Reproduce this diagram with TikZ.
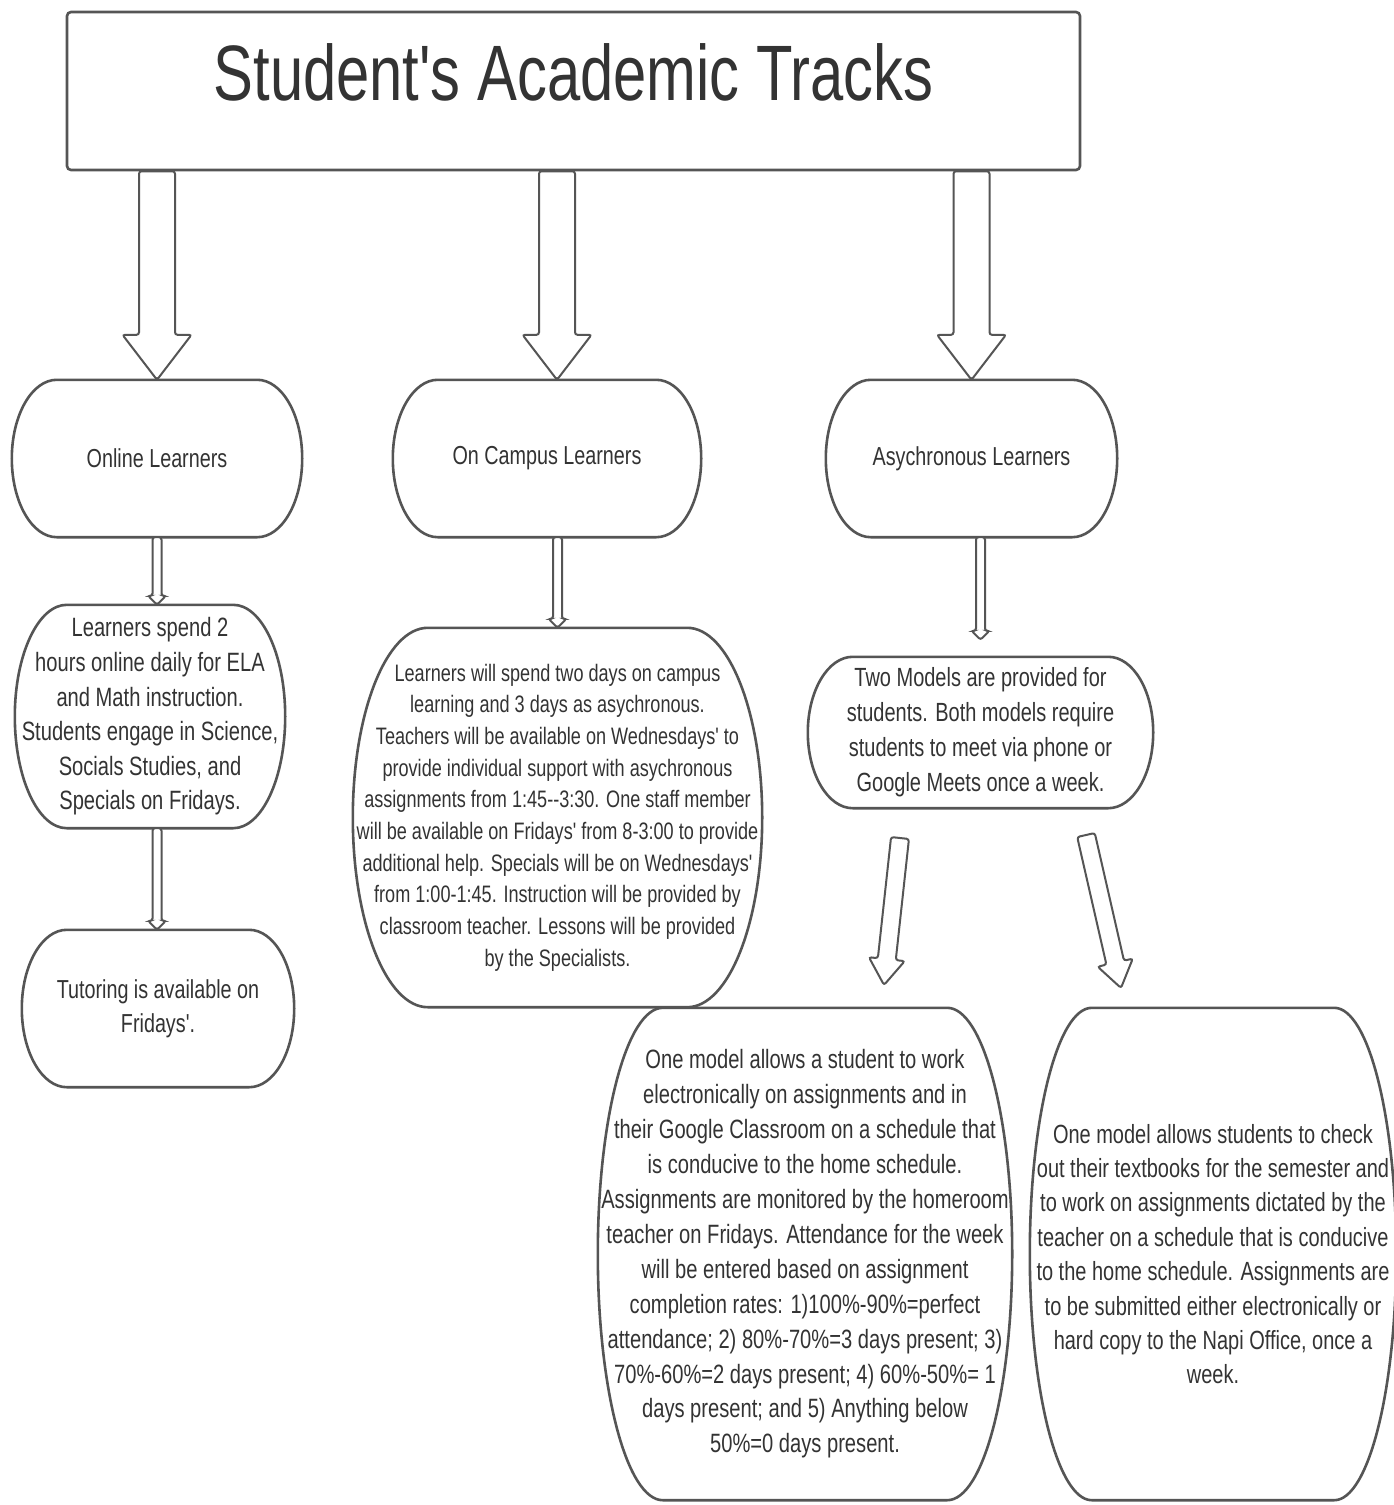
\documentclass[tikz,border=0pt]{standalone}
\usepackage{fontspec}
\setmainfont{Liberation Sans}[FakeStretch=0.76,Ligatures=TeXOff]
\usetikzlibrary{calc}
\definecolor{linegray}{HTML}{555555}
\definecolor{textgray}{HTML}{333333}
\tikzset{
  boxline/.style={draw=linegray, line width=2.6pt},
  arrline/.style={draw=linegray, line width=2pt, rounded corners=2.5pt, fill=white},
  txt/.style={align=center, text=textgray, inner sep=0pt},
}
\newcommand\termbox[2]{%
  \draw[boxline] let \p1=(#1.north west), \p2=(#1.south east) in
    (\x1+#2,\y1) -- (\x2-#2,\y1)
    arc[start angle=90, end angle=-90, x radius=#2, y radius={(\y1-\y2)/2}]
    -- (\x1+#2,\y2)
    arc[start angle=270, end angle=90, x radius=#2, y radius={(\y1-\y2)/2}]
    -- cycle;}
\newcommand\blockarrow[5]{%
  \coordinate (bahead) at ($(#2)!#5!(#1)$);
  \draw[arrline] ($(#1)!#3!90:(#2)$) -- ($(bahead)!#3!90:(#2)$) -- ($(bahead)!#4!90:(#2)$)
    -- (#2) -- ($(bahead)!#4!-90:(#2)$) -- ($(bahead)!#3!-90:(#2)$) -- ($(#1)!#3!-90:(#2)$) -- cycle;}
\begin{document}
\begin{tikzpicture}[x=1pt, y=-1pt]
\useasboundingbox (0,0) rectangle (1394,1505);
\fill[white] (0,0) rectangle (1394,1505);

% title
\node[txt, minimum width=1013pt, minimum height=158pt, draw=linegray, line width=2.6pt,
  rounded corners=4pt, text height=60pt, text depth=42pt,
  font=\fontsize{78.6}{80}\selectfont] (title) at (573.5,91) {Student's Academic Tracks};

% first level
\node[txt, minimum width=290pt, minimum height=157pt, font=\fontsize{26}{34}\selectfont]
  (online) at (157,458.5) {Online Learners};
\node[txt, minimum width=308pt, minimum height=157pt, font=\fontsize{26}{34}\selectfont]
  (campus) at (547,458.5) {On Campus Learners};
\node[txt, minimum width=291pt, minimum height=157pt, font=\fontsize{26}{34}\selectfont]
  (asy) at (971.5,458.5) {Asychronous Learners};
\termbox{online}{45pt}
\termbox{campus}{45pt}
\termbox{asy}{45pt}

% online column
\node[txt, minimum width=270pt, minimum height=223pt, font=\fontsize{26.5}{34.6}\selectfont]
  (onlinedet) at (150,716.5) {Learners spend 2\\hours online daily for ELA\\and Math instruction.\\Students engage in Science,\\Socials Studies, and\\Specials on Fridays.};
\termbox{onlinedet}{52pt}
\node[txt, minimum width=272pt, minimum height=157pt, font=\fontsize{26}{34}\selectfont]
  (tutor) at (158,1008.5) {Tutoring is available on\\Fridays'.};
\termbox{tutor}{45pt}

% campus column
\node[txt, minimum width=409pt, minimum height=379pt, font=\fontsize{23.8}{31.7}\selectfont]
  (campusdet) at (557.5,817.5) {Learners will spend two days on campus\\learning and 3 days as asychronous.\\Teachers will be available on Wednesdays' to\\provide individual support with asychronous\\assignments from 1:45--3:30.  One staff member\\will be available on Fridays' from 8-3:00 to provide\\additional help.  Specials will be on Wednesdays'\\from 1:00-1:45. Instruction will be provided by\\classroom teacher.  Lessons will be provided\\by the Specialists.};
\termbox{campusdet}{75pt}

% asynchronous column
\node[txt, minimum width=345pt, minimum height=151pt, font=\fontsize{26.3}{35}\selectfont]
  (asydet) at (980.5,732.5) {Two Models are provided for\\students.  Both models require\\students to meet via phone or\\Google Meets once a week.};
\termbox{asydet}{45pt}
\node[txt, minimum width=414pt, minimum height=492pt, font=\fontsize{26.5}{34.9}\selectfont]
  (model1) at (805,1254) {One model allows a student to work\\electronically on assignments  and in\\their Google Classroom on a schedule that\\is conducive to the home schedule.\\Assignments are monitored by the homeroom\\teacher on Fridays.  Attendance for the week\\will be entered based on assignment\\completion rates: 1)100\%-90\%=perfect\\attendance; 2) 80\%-70\%=3 days present; 3)\\70\%-60\%=2 days present; 4) 60\%-50\%= 1\\days present; and 5) Anything below\\50\%=0 days present.};
\termbox{model1}{65pt}
\node[txt, minimum width=366pt, minimum height=492pt, font=\fontsize{26.3}{34.4}\selectfont]
  (model2) at (1213,1254) {One model allows students to check\\out their textbooks for the semester and\\to work on assignments dictated by the\\teacher on a schedule that is conducive\\to the home schedule.  Assignments are\\to be submitted either electronically or\\hard copy to the Napi Office, once a\\week.};
\termbox{model2}{62pt}

% big arrows from title
\coordinate (a1e) at (online.north);
\coordinate (a1s) at (title.south -| a1e);
\coordinate (a2e) at ($(campus.north)+(10,0)$);
\coordinate (a2s) at (title.south -| a2e);
\coordinate (a3e) at (asy.north);
\coordinate (a3s) at (title.south -| a3e);
\blockarrow{a1s}{a1e}{18pt}{34.5pt}{45pt}
\blockarrow{a2s}{a2e}{18pt}{34.5pt}{45pt}
\blockarrow{a3s}{a3e}{18pt}{34.5pt}{45pt}

% small arrows
\coordinate (b1s) at (online.south);
\coordinate (b1e) at (online.south |- onlinedet.north);
\blockarrow{b1s}{b1e}{4.5pt}{9pt}{9pt}
\coordinate (b2s) at (online.south |- onlinedet.south);
\coordinate (b2e) at (online.south |- tutor.north);
\blockarrow{b2s}{b2e}{4.5pt}{9pt}{9pt}
\coordinate (b3s) at (campusdet.north |- campus.south);
\coordinate (b3e) at (campusdet.north);
\blockarrow{b3s}{b3e}{4.5pt}{9pt}{9pt}
\coordinate (b4s) at (asydet.north |- asy.south);
\coordinate (b4e) at ($(asydet.north)+(0,-17)$);
\blockarrow{b4s}{b4e}{4.5pt}{9pt}{9pt}

% diagonal arrows to the two models
\coordinate (c1s) at (900,838);
\coordinate (c1e) at (884,985);
\blockarrow{c1s}{c1e}{9pt}{18pt}{26pt}
\coordinate (c2s) at (1086,835);
\coordinate (c2e) at (1121,988);
\blockarrow{c2s}{c2e}{9pt}{18pt}{26pt}
\end{tikzpicture}
\end{document}
